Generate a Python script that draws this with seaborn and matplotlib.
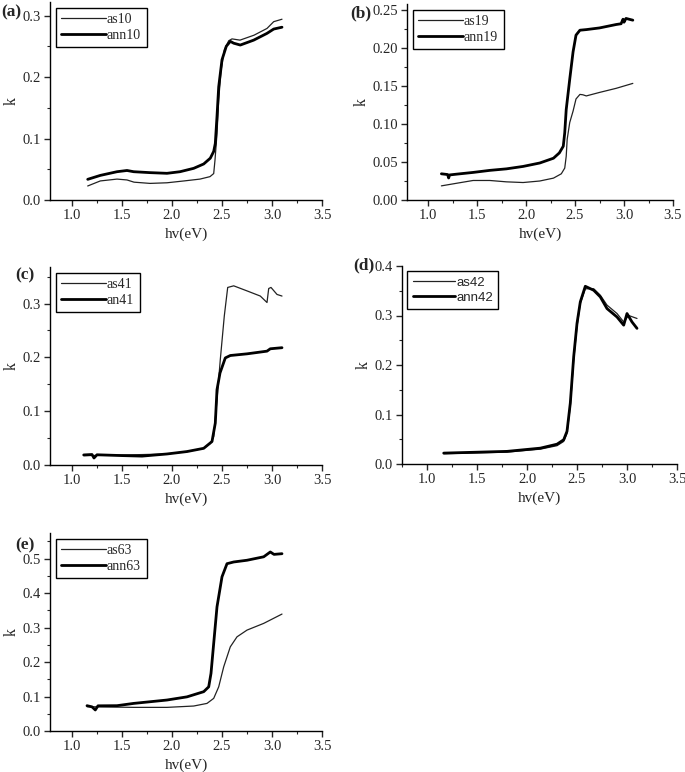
import numpy as np
import pandas as pd
import matplotlib
matplotlib.use("Agg")
import matplotlib.pyplot as plt
from matplotlib.ticker import MultipleLocator, FormatStrFormatter
import seaborn as sns

# ---------------- data ----------------
a_as_x = [1.157, 1.283, 1.45, 1.55, 1.62, 1.78, 1.95, 2.12, 2.28, 2.38, 2.417, 2.43, 2.45, 2.467, 2.49, 2.523, 2.567, 2.6, 2.68, 2.82, 2.95, 3.017, 3.1]
a_as_k = [0.0228, 0.031, 0.034, 0.0326, 0.029, 0.027, 0.028, 0.031, 0.034, 0.038, 0.043, 0.065, 0.108, 0.163, 0.21, 0.244, 0.259, 0.262, 0.26, 0.268, 0.279, 0.29, 0.294]
a_ann_x = [1.157, 1.283, 1.45, 1.55, 1.617, 1.78, 1.95, 2.08, 2.217, 2.317, 2.383, 2.417, 2.433, 2.45, 2.467, 2.5, 2.543, 2.583, 2.617, 2.683, 2.817, 2.95, 3.017, 3.1]
a_ann_k = [0.0336, 0.04, 0.046, 0.048, 0.046, 0.0445, 0.0434, 0.046, 0.0515, 0.0586, 0.068, 0.079, 0.092, 0.136, 0.184, 0.228, 0.25, 0.258, 0.255, 0.252, 0.26, 0.271, 0.278, 0.281]

b_as_x = [1.136, 1.29, 1.46, 1.63, 1.8, 1.97, 2.14, 2.28, 2.36, 2.395, 2.41, 2.42, 2.446, 2.48, 2.51, 2.55, 2.58, 2.615, 2.75, 2.92, 3.09]
b_as_k = [0.0186, 0.022, 0.0257, 0.0257, 0.0239, 0.023, 0.025, 0.0288, 0.0345, 0.042, 0.0575, 0.08, 0.102, 0.117, 0.133, 0.139, 0.1385, 0.137, 0.1416, 0.147, 0.1535]
b_ann_x = [1.136, 1.2, 1.21, 1.22, 1.29, 1.46, 1.63, 1.8, 1.97, 2.14, 2.28, 2.34, 2.38, 2.395, 2.41, 2.446, 2.48, 2.51, 2.55, 2.615, 2.75, 2.92, 2.97, 2.99, 3.0, 3.02, 3.09]
b_ann_k = [0.0345, 0.0335, 0.029, 0.033, 0.034, 0.0363, 0.039, 0.041, 0.0442, 0.0487, 0.055, 0.062, 0.0708, 0.0885, 0.119, 0.159, 0.195, 0.217, 0.2235, 0.2243, 0.2265, 0.231, 0.232, 0.238, 0.234, 0.239, 0.2367]

c_as_x = [1.117, 1.5, 1.95, 2.15, 2.317, 2.383, 2.417, 2.45, 2.483, 2.523, 2.557, 2.617, 2.75, 2.883, 2.95, 2.967, 2.99, 3.05, 3.1]
c_as_k = [0.0174, 0.0185, 0.0205, 0.025, 0.031, 0.04, 0.053, 0.121, 0.196, 0.277, 0.33, 0.333, 0.3236, 0.314, 0.302, 0.328, 0.33, 0.317, 0.314]
c_ann_x = [1.117, 1.2, 1.22, 1.25, 1.5, 1.7, 1.95, 2.15, 2.317, 2.4, 2.433, 2.45, 2.48, 2.533, 2.583, 2.75, 2.95, 2.983, 3.1]
c_ann_k = [0.0187, 0.0195, 0.013, 0.019, 0.0175, 0.0165, 0.0205, 0.025, 0.031, 0.0436, 0.078, 0.14, 0.171, 0.199, 0.2035, 0.2066, 0.2116, 0.216, 0.218]

d_as_x = [1.167, 1.8, 2.133, 2.3, 2.367, 2.4, 2.433, 2.467, 2.5, 2.533, 2.583, 2.667, 2.733, 2.8, 2.9, 2.967, 3.017, 3.1]
d_as_k = [0.0208, 0.024, 0.030, 0.037, 0.0456, 0.062, 0.116, 0.21, 0.277, 0.324, 0.354, 0.354, 0.341, 0.321, 0.304, 0.287, 0.300, 0.294]
d_ann_x = [1.167, 1.8, 2.133, 2.3, 2.367, 2.4, 2.433, 2.467, 2.5, 2.533, 2.583, 2.667, 2.733, 2.8, 2.9, 2.967, 3.0, 3.05, 3.1]
d_ann_k = [0.022, 0.0255, 0.032, 0.040, 0.049, 0.066, 0.123, 0.217, 0.284, 0.3275, 0.359, 0.351, 0.3376, 0.314, 0.297, 0.2805, 0.304, 0.287, 0.274]

e_as_x = [1.15, 1.617, 1.95, 2.217, 2.35, 2.417, 2.467, 2.517, 2.583, 2.65, 2.75, 2.917, 3.1]
e_as_k = [0.0705, 0.0685, 0.0685, 0.0724, 0.08, 0.0946, 0.128, 0.186, 0.244, 0.273, 0.2925, 0.312, 0.339]
e_ann_x = [1.15, 1.2, 1.233, 1.26, 1.45, 1.617, 1.95, 2.15, 2.317, 2.367, 2.39, 2.417, 2.45, 2.5, 2.55, 2.617, 2.75, 2.917, 2.983, 3.02, 3.1]
e_ann_k = [0.0734, 0.070, 0.061, 0.073, 0.0734, 0.080, 0.0898, 0.099, 0.114, 0.128, 0.167, 0.254, 0.36, 0.447, 0.485, 0.49, 0.495, 0.505, 0.519, 0.512, 0.514]

panels = [
    dict(tag="(a)", labels=("as10", "ann10"), as_x=a_as_x, as_k=a_as_k, ann_x=a_ann_x, ann_k=a_ann_k),
    dict(tag="(b)", labels=("as19", "ann19"), as_x=b_as_x, as_k=b_as_k, ann_x=b_ann_x, ann_k=b_ann_k),
    dict(tag="(c)", labels=("as41", "an41"), as_x=c_as_x, as_k=c_as_k, ann_x=c_ann_x, ann_k=c_ann_k),
    dict(tag="(d)", labels=("as42", "ann42"), as_x=d_as_x, as_k=d_as_k, ann_x=d_ann_x, ann_k=d_ann_k),
    dict(tag="(e)", labels=("as63", "ann63"), as_x=e_as_x, as_k=e_as_k, ann_x=e_ann_x, ann_k=e_ann_k),
]

# ---------------- layout / style ----------------
W, H = 685, 772
# pixel boxes: left, right, top, bottom
boxes = [(50, 322, 2, 200), (407, 673, 4, 200), (50, 322, 267, 465),
         (402, 677, 266, 464), (50, 322, 533, 731)]
tag_pos = [(1, 12), (350, 13), (15, 275), (353, 265), (15, 545)]
xmins = [0.78, 0.785, 0.78, 0.75, 0.78]
ylims = [(0, 0.322), (0, 0.258), (0, 0.368), (0, 0.4), (0, 0.574)]
ymaj = [0.1, 0.05, 0.1, 0.1, 0.1]
yfmt = ["%.1f", "%.2f", "%.1f", "%.1f", "%.1f"]

sns.set_style("ticks")
plt.rcParams["font.family"] = ["Liberation Serif", "DejaVu Serif"]

fig = plt.figure(figsize=(W / 100, H / 100), dpi=100)

for i, p in enumerate(panels):
    l, r, t, b = boxes[i]
    ax = fig.add_axes([l / W, 1 - b / H, (r - l) / W, (b - t) / H])
    df_as = pd.DataFrame({"x": p["as_x"], "k": p["as_k"]})
    df_ann = pd.DataFrame({"x": p["ann_x"], "k": p["ann_k"]})
    sns.lineplot(data=df_as, x="x", y="k", ax=ax, color="#222222", lw=0.9,
                 label=p["labels"][0], sort=False, estimator=None)
    sns.lineplot(data=df_ann, x="x", y="k", ax=ax, color="black", lw=2.0,
                 label=p["labels"][1], sort=False, estimator=None)
    ax.set_xlim(xmins[i], 3.5)
    ax.set_ylim(*ylims[i])
    ax.xaxis.set_major_locator(MultipleLocator(0.5))
    ax.xaxis.set_minor_locator(MultipleLocator(0.25))
    ax.yaxis.set_major_locator(MultipleLocator(ymaj[i]))
    ax.yaxis.set_minor_locator(MultipleLocator(ymaj[i] / 2))
    ax.xaxis.set_major_formatter(FormatStrFormatter("%.1f"))
    ax.yaxis.set_major_formatter(FormatStrFormatter(yfmt[i]))
    ax.tick_params(which="major", direction="out", length=4, width=1, labelsize=10.5, pad=2.5)
    ax.tick_params(which="minor", direction="out", length=2, width=0.8)
    for s in ("top", "right"):
        ax.spines[s].set_visible(False)
    for s in ("left", "bottom"):
        ax.spines[s].set_linewidth(1.0)
        ax.spines[s].set_color("black")
    ax.set_xlabel("hv(eV)", fontsize=11, labelpad=4)
    ax.set_ylabel("k", fontsize=11.5, labelpad=2)
    leg_kw = dict(loc="upper left", frameon=True, fancybox=False, framealpha=1,
                  edgecolor="black", handlelength=3.2, handletextpad=0.1,
                  borderpad=0.4, labelspacing=0.2, borderaxespad=0.4)
    if p["tag"] == "(d)":
        leg = ax.legend(prop={"family": "Liberation Sans", "size": 9.5}, **leg_kw)
    else:
        leg = ax.legend(prop={"family": "Liberation Serif", "size": 10}, **leg_kw)
    leg.get_frame().set_linewidth(1.0)
    tx, ty = tag_pos[i]
    fig.text(tx / W, 1 - ty / H, p["tag"], fontsize=12.5,
             fontweight="bold", ha="left", va="center")

fig.savefig("out.png", dpi=100)
